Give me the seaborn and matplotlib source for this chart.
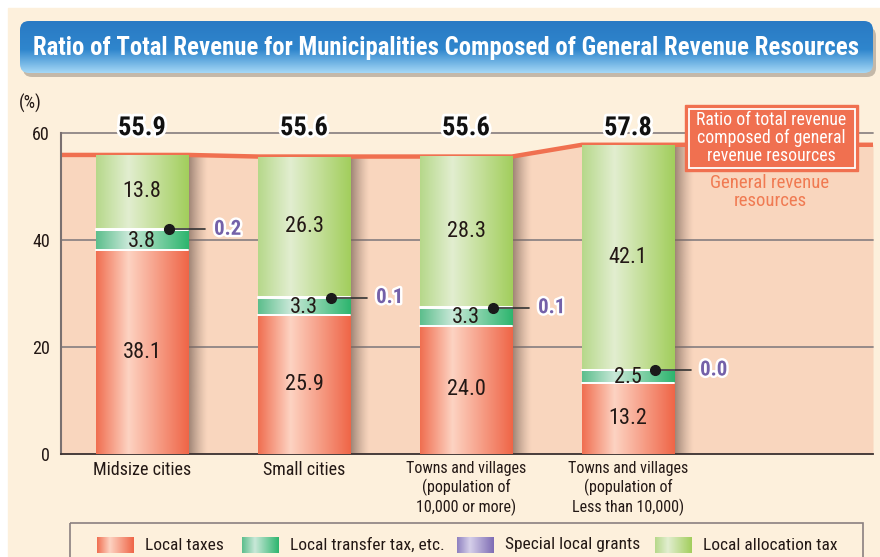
import numpy as np
import pandas as pd
import matplotlib
matplotlib.use("Agg")
import matplotlib.pyplot as plt
import matplotlib.patheffects as pe
from matplotlib.colors import LinearSegmentedColormap, to_rgb
from matplotlib.patches import FancyBboxPatch, Rectangle
import seaborn as sns

sns.set_style("white")
plt.rcParams['font.family'] = ['Roboto Condensed', 'Liberation Sans Narrow', 'Roboto', 'DejaVu Sans']

# data (%)
categories = ["Midsize cities", "Small cities",
              "Towns and villages\n(population of\n10,000 or more)",
              "Towns and villages\n(population of\nLess than 10,000)"]
series_names = ["Local taxes", "Local transfer tax, etc.", "Special local grants", "Local allocation tax"]
local_taxes = [38.1, 25.9, 24.0, 13.2]
transfer_tax = [3.8, 3.3, 3.3, 2.5]
special_grants = [0.2, 0.1, 0.1, 0.0]
allocation_tax = [13.8, 26.3, 28.3, 42.1]
totals = [55.9, 55.6, 55.6, 57.8]
yticks = [0, 20, 40, 60]

# colours
CREAM = "#FDF0DC"
PINK = "#F9D6BE"
RED = "#F07050"
TEXT = "#231815"
PURPLE = "#7461A9"
gradients = [
    [(0, "#F06E50"), (0.35, "#FDD3C2"), (1, "#EF6547")],
    [(0, "#5CBE8C"), (0.35, "#C9E8D8"), (1, "#2DB56E")],
    [(0, "#8E80C0"), (0.35, "#D6D0EA"), (1, "#7E6CB4")],
    [(0, "#B6D88A"), (0.35, "#E2EED0"), (1, "#A2CE5C")],
]
cmaps = [LinearSegmentedColormap.from_list(f"g{i}", g) for i, g in enumerate(gradients)]
hgrad = np.linspace(0, 1, 256).reshape(1, -1)

df = pd.DataFrame({n: v for n, v in zip(series_names,
                   [local_taxes, transfer_tax, special_grants, allocation_tax])}, index=categories)
cum = df.cumsum(axis=1)

W, H = 880, 557
fig = plt.figure(figsize=(W / 100, H / 100), dpi=100, facecolor="white")
r = fig.canvas.get_renderer()


def fit_width(txt, px):
    # shrink a text until it is no wider than px
    w = txt.get_window_extent(r).width
    if w > px:
        txt.set_fontsize(txt.get_fontsize() * px / w)


# background layer in pixel coordinates
bg = fig.add_axes([0, 0, 1, 1], zorder=0)
bg.set_xlim(0, W)
bg.set_ylim(H, 0)
bg.axis("off")
bg.add_patch(Rectangle((8, 8), W, H, color=CREAM, zorder=0))

# title banner
bg.add_patch(FancyBboxPatch((23, 27), 853, 50, boxstyle="round,pad=0,rounding_size=9",
                            color="#8C8275", alpha=0.5, lw=0, zorder=1))
banner = FancyBboxPatch((20, 21), 853, 52, boxstyle="round,pad=0,rounding_size=9",
                        facecolor="none", edgecolor="none", zorder=2)
bg.add_patch(banner)
vcmap = LinearSegmentedColormap.from_list("banner", [(0, "#2A7AC4"), (0.55, "#2F86CD"), (1, "#A5D8F6")])
im = bg.imshow(np.linspace(0, 1, 128).reshape(-1, 1), cmap=vcmap, extent=(20, 873, 73, 21),
               origin="upper", aspect="auto", zorder=2)
im.set_clip_path(banner)
title = bg.text(446, 48, "Ratio of Total Revenue for Municipalities Composed of General Revenue Resources",
                ha="center", va="center", color="white", fontweight="bold", fontsize=24, zorder=3)
fit_width(title, 826)

# legend
bg.add_patch(Rectangle((70, 523), 793, 50, fill=False, edgecolor="#8A8080", lw=1.2, zorder=1))
sw_x = [97, 242, 457, 655]
for i, name in enumerate(series_names):
    bg.imshow(hgrad, cmap=cmaps[i], extent=(sw_x[i], sw_x[i] + 37, 553, 537),
              aspect="auto", zorder=2)
    t = bg.text(sw_x[i] + 48, 545, name, ha="left", va="center", fontsize=12.5, color=TEXT)
    nxt = sw_x[i + 1] if i < 3 else 852
    fit_width(t, nxt - sw_x[i] - 56)
bg.set_xlim(0, W)
bg.set_ylim(H, 0)

fig.text(30 / W, 1 - 103 / H, "(%)", ha="center", va="center", fontsize=13, color=TEXT)

# main chart
ax = fig.add_axes([61 / W, 1 - 454 / H, 812 / W, 321 / H], zorder=1)
ax.set_facecolor("none")
bar_w = 0.568
xpos = np.arange(len(categories))
xmax = 4.512

# general revenue resources band
line_x = [-0.5]
line_y = [totals[0]]
for i, t in enumerate(totals):
    line_x += [i - bar_w / 2, i + bar_w / 2]
    line_y += [t, t]
line_x.append(xmax)
line_y.append(totals[-1])
ax.fill_between(line_x, 0, line_y, color=PINK, lw=0, zorder=0.2)
ax.plot(line_x, line_y, color=RED, lw=3.2, zorder=2.5, solid_capstyle="butt")

for y in yticks[1:]:
    ax.axhline(y, color="#8E8585", lw=1.3, zorder=1, clip_on=False)

# bar shadows
shadow = np.zeros((1, 64, 4))
shadow[..., :3] = to_rgb("#7A6358")
shadow[0, :, 3] = np.linspace(0.8, 0, 64) ** 1.3
for i, t in enumerate(totals):
    ax.imshow(shadow, extent=(i + bar_w / 2, i + bar_w / 2 + 0.12, 0, t),
              aspect="auto", zorder=2)

# stacked bars: cumulative layers drawn from the top segment down
for k in reversed(range(len(series_names))):
    n0 = len(ax.patches)
    sns.barplot(x=categories, y=cum.iloc[:, k].values, order=categories, width=bar_w,
                color=gradients[k][-1][1], ax=ax, zorder=3 + (3 - k), linewidth=0)
    for p in ax.patches[n0:]:
        x0, y0 = p.get_x(), p.get_y()
        g = ax.imshow(hgrad, cmap=cmaps[k], extent=(x0, x0 + p.get_width(), y0, y0 + p.get_height()),
                      aspect="auto", zorder=p.get_zorder() + 0.5)
        g.set_clip_path(p)

# white separators between segments
for k in range(len(series_names) - 1):
    for i in xpos:
        yb = cum.iloc[i, k]
        ax.plot([i - bar_w / 2, i + bar_w / 2], [yb, yb], color="white", lw=1.4, zorder=8)

# segment labels
for i in xpos:
    ax.text(i, local_taxes[i] / 2, f"{local_taxes[i]:.1f}", ha="center", va="center",
            fontsize=16, color=TEXT, zorder=9)
    ax.text(i, local_taxes[i] + transfer_tax[i] / 2 - 0.2, f"{transfer_tax[i]:.1f}", ha="center",
            va="center", fontsize=16, color=TEXT, zorder=9)
    top0 = cum.iloc[i, 2]
    ax.text(i, top0 + allocation_tax[i] / 2, f"{allocation_tax[i]:.1f}", ha="center", va="center",
            fontsize=16, color=TEXT, zorder=9)
    # special local grants callout
    yg = cum.iloc[i, 1] + special_grants[i] / 2
    ax.plot([i + 0.165, i + 0.39], [yg, yg], color="#333333", lw=1.2, zorder=9, clip_on=False)
    ax.plot(i + 0.165, yg, "o", color="#1A1A1A", ms=7, zorder=10)
    ax.text(i + 0.445, yg, f"{special_grants[i]:.1f}", ha="left", va="center", fontsize=15,
            fontweight="bold", color=PURPLE, zorder=10,
            path_effects=[pe.withStroke(linewidth=3.5, foreground="white")])
    # totals
    ax.text(i, 60.9, f"{totals[i]:.1f}", ha="center", va="center", fontsize=19, fontweight="bold",
            color="#111111", zorder=10, clip_on=False,
            path_effects=[pe.withStroke(linewidth=4, foreground="white")])

ax.set_xlim(-0.5, xmax)
ax.set_ylim(0, 60)
ax.set_yticks(yticks)
ax.set_yticklabels([str(v) for v in yticks], fontsize=13, color=TEXT)
ax.tick_params(axis="y", length=0, pad=8)
ax.set_xticks(xpos)
ax.set_xticklabels(categories, color=TEXT, linespacing=1.2)
for lab, fs in zip(ax.get_xticklabels(), [13, 13, 11.5, 11.5]):
    lab.set_fontsize(fs)
ax.tick_params(axis="x", which="major", length=0, pad=5)
ax.set_xticks(xpos[:-1] + 0.5, minor=True)
ax.tick_params(axis="x", which="minor", direction="in", length=9, width=1.1, color="#3A3030")
ax.set_xlabel("")
ax.set_ylabel("")
sns.despine(ax=ax)
ax.spines["left"].set_color("#7A7070")
ax.spines["left"].set_linewidth(1.5)
ax.spines["bottom"].set_color("#3A3030")
ax.spines["bottom"].set_linewidth(1.3)
ax.grid(False)

# callout box for the line
top = fig.add_axes([0, 0, 1, 1], zorder=5)
top.set_xlim(0, W)
top.set_ylim(H, 0)
top.axis("off")
top.add_patch(Rectangle((685, 105), 173, 66, facecolor=RED, edgecolor=RED, lw=1))
top.add_patch(Rectangle((688.5, 108.5), 166, 59, fill=False, edgecolor="white", lw=1.3))
ct = top.text(771, 138, "Ratio of total revenue\ncomposed of general\nrevenue resources", ha="center",
              va="center", color="white", fontsize=13, linespacing=1.0)
fit_width(ct, 150)
gt = top.text(770, 192, "General revenue\nresources", ha="center", va="center", color="#F07A52",
              fontsize=13.5, linespacing=1.0)
fit_width(gt, 130)

fig.savefig("out.png", dpi=100, facecolor=fig.get_facecolor())
